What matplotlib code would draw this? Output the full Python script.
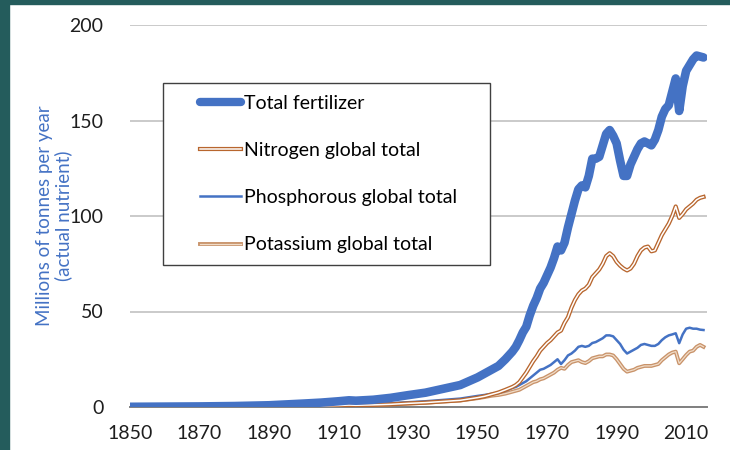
"""Global fertilizer use 1850-2015 (millions of tonnes of actual nutrient)."""

import matplotlib
matplotlib.use("Agg")
import matplotlib.pyplot as plt
from matplotlib.lines import Line2D
from matplotlib.patches import Rectangle

plt.rcParams["font.family"] = ["Lato", "DejaVu Sans"]

# values
years = [1850, 1860, 1870, 1880, 1890, 1900, 1905, 1910, 1913, 1915, 1920, 1925,
         1930, 1935, 1940, 1945, 1950, 1952, 1954, 1956, 1958,
         1960, 1961, 1962, 1963, 1964, 1965, 1966, 1967, 1968, 1969,
         1970, 1971, 1972, 1973, 1974, 1975, 1976, 1977, 1978, 1979,
         1980, 1981, 1982, 1983, 1984, 1985, 1986, 1987, 1988, 1989,
         1990, 1991, 1992, 1993, 1994, 1995, 1996, 1997, 1998, 1999,
         2000, 2001, 2002, 2003, 2004, 2005, 2006, 2007, 2008, 2009,
         2010, 2011, 2012, 2013, 2014, 2015]
total = [0.1, 0.2, 0.3, 0.5, 0.9, 1.8, 2.3, 3.0, 3.5, 3.3, 3.8, 4.8,
         6.2, 7.5, 9.5, 11.5, 15.5, 17.5, 19.5, 21.5, 25.0,
         29.0, 31.5, 35.0, 39.0, 42.0, 48.0, 53.0, 57.0, 62.0, 65.0,
         69.0, 73.0, 78.0, 84.0, 82.0, 86.0, 94.0, 101.0, 108.0, 114.0,
         116.0, 115.0, 121.0, 130.0, 130.0, 131.0, 137.0, 143.0, 145.0, 142.0,
         138.0, 129.0, 121.0, 121.0, 127.0, 131.0, 135.0, 138.0, 139.0, 138.0,
         137.0, 140.0, 145.0, 152.0, 156.0, 158.0, 165.0, 172.0, 155.0, 168.0,
         176.0, 179.0, 182.0, 184.0, 183.5, 183.0]
nitrogen = [0.05, 0.1, 0.1, 0.15, 0.25, 0.5, 0.6, 0.8, 1.0, 0.9, 1.1, 1.4,
            1.9, 2.3, 2.9, 3.5, 4.9, 5.6, 6.6, 7.6, 9.0,
            10.5, 11.5, 13.0, 15.5, 18.0, 21.0, 24.0, 26.5, 29.5, 31.5,
            33.5, 35.0, 37.0, 39.0, 40.0, 44.0, 47.0, 52.0, 56.0, 59.0,
            61.0, 62.0, 64.0, 68.0, 70.0, 72.0, 75.0, 79.0, 80.5, 79.0,
            76.0, 74.0, 72.5, 71.5, 72.5, 75.0, 79.0, 82.0, 83.5, 84.0,
            81.5, 82.0, 86.0, 90.0, 93.0, 96.0, 100.0, 105.0, 99.0, 101.0,
            103.5, 105.0, 106.5, 108.5, 109.5, 110.0]
phosphorous = [0.05, 0.1, 0.15, 0.25, 0.4, 0.8, 1.0, 1.3, 1.5, 1.3, 1.6, 2.0,
               2.5, 3.0, 3.7, 4.4, 5.8, 6.3, 6.9, 7.4, 8.5,
               10.0, 10.5, 11.5, 12.5, 13.5, 15.0, 16.5, 18.0, 19.5, 20.0,
               21.0, 22.0, 23.5, 25.0, 22.5, 24.5, 27.0, 28.0, 29.5, 31.5,
               32.0, 31.5, 32.0, 33.5, 34.0, 35.0, 36.0, 37.5, 37.5, 37.0,
               35.0, 33.0, 30.0, 28.0, 29.0, 30.0, 31.0, 32.5, 33.0, 32.5,
               32.0, 32.0, 33.0, 35.0, 36.5, 37.5, 38.0, 38.6, 33.4, 38.0,
               41.0, 41.5, 41.0, 41.0, 40.5, 40.3]
potassium = [0.0, 0.0, 0.05, 0.1, 0.25, 0.5, 0.7, 0.9, 1.1, 1.0, 1.1, 1.4,
             1.8, 2.2, 2.9, 3.4, 4.6, 5.2, 5.9, 6.3, 7.0,
             8.0, 8.5, 9.0, 10.0, 11.0, 12.0, 13.0, 13.5, 14.5, 15.0,
             16.0, 17.0, 18.0, 19.5, 20.5, 20.0, 22.0, 23.5, 24.0, 24.5,
             23.5, 23.0, 24.0, 25.5, 26.0, 26.5, 26.5, 27.5, 27.5, 27.0,
             25.0, 22.5, 20.0, 18.5, 19.0, 19.5, 20.5, 21.0, 21.5, 21.5,
             21.5, 22.0, 22.5, 24.5, 26.0, 27.5, 28.5, 29.0, 22.9, 25.0,
             27.2, 29.0, 29.5, 31.5, 32.5, 31.5]

BLUE = "#4472c4"
BROWN = "#b8662e"
TAN = "#c9936a"
TAN_IN = "#f0dcc8"
TEAL = "#245c5c"

fig = plt.figure(figsize=(7.3, 4.5), dpi=100)
ax = fig.add_axes([130 / 730, 43 / 450, 577 / 730, 382 / 450])

# teal slide border on the left and top
fig.patches.append(Rectangle((0, 0), 9 / 730, 1, transform=fig.transFigure,
                             color=TEAL, zorder=0))
fig.patches.append(Rectangle((0, 1 - 4 / 450), 1, 4 / 450, transform=fig.transFigure,
                             color=TEAL, zorder=0))

ax.plot(years, total, color=BLUE, lw=6.2, solid_capstyle="round",
        solid_joinstyle="round", zorder=5)
ax.plot(years, nitrogen, color=BROWN, lw=3.0, zorder=4)
ax.plot(years, nitrogen, color="white", lw=1.1, zorder=4)
ax.plot(years, phosphorous, color=BLUE, lw=1.8, zorder=3)
ax.plot(years, potassium, color=TAN, lw=2.8, zorder=2)
ax.plot(years, potassium, color=TAN_IN, lw=0.9, zorder=2)

ax.set_xlim(1850, 2016)
ax.set_ylim(0, 200)
ax.set_xticks(range(1850, 2011, 20))
ax.set_yticks(range(0, 201, 50))
ax.tick_params(length=0, labelsize=14, colors="#1e1e1e")
ax.tick_params(axis="y", pad=19)
ax.tick_params(axis="x", pad=13)
ax.grid(axis="y", color="#c6c6c6", lw=1.3)
ax.set_axisbelow(True)
for s in ("left", "right", "top"):
    ax.spines[s].set_visible(False)
ax.spines["bottom"].set_color("#7f7f7f")
ax.spines["bottom"].set_linewidth(1.4)
ax.spines["bottom"].set_zorder(1)

ax.set_ylabel("Millions of tonnes per year\n(actual nutrient)", color=BLUE,
              fontsize=13.5, linespacing=1.1)
ax.yaxis.set_label_coords(-0.1, 0.5)

handles = [
    Line2D([], [], color=BLUE, lw=6, solid_capstyle="round"),
    (Line2D([], [], color=BROWN, lw=3.0), Line2D([], [], color="white", lw=1.1)),
    Line2D([], [], color=BLUE, lw=1.8),
    (Line2D([], [], color=TAN, lw=2.8), Line2D([], [], color=TAN_IN, lw=0.9)),
]
labels = ["Total fertilizer", "Nitrogen global total",
          "Phosphorous global total", "Potassium global total"]
fig.legend(handles, labels, loc="upper left", bbox_to_anchor=(200 / 730, 1 - 95 / 450),
           frameon=False, fontsize=14, borderpad=0, borderaxespad=0,
           handlelength=2.1, handletextpad=0.15, labelspacing=1.55)
fig.patches.append(Rectangle((163 / 730, 1 - 265 / 450), 327 / 730, 182 / 450,
                             transform=fig.transFigure, fill=True, facecolor="white",
                             edgecolor="#404040", lw=1.0, zorder=2))

fig.savefig("out.png", dpi=100)
